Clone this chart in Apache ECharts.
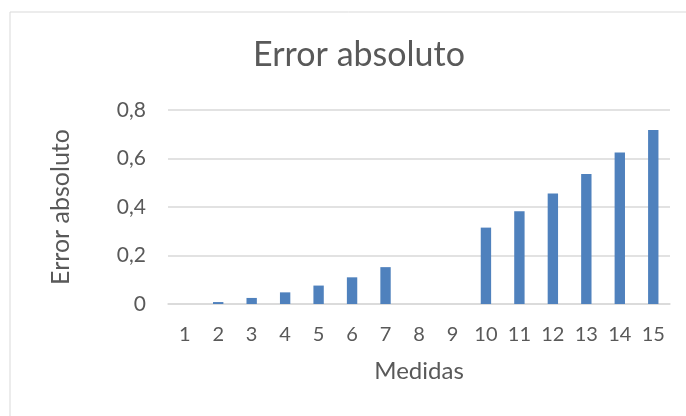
<!DOCTYPE html>
<html>
<head>
<meta charset="utf-8">
<script src="https://cdn.jsdelivr.net/npm/echarts@6/dist/echarts.min.js"></script>
<style>
  html, body { margin: 0; padding: 0; background: #fff; }
  #container { width: 686px; height: 416px; }
</style>
</head>
<body>
<div id="container"></div>
<script>
var categories = ['1', '2', '3', '4', '5', '6', '7', '8', '9', '10', '11', '12', '13', '14', '15'];
var errorValues = [0, 0.008, 0.025, 0.048, 0.076, 0.11, 0.152, 0, 0, 0.315, 0.382, 0.456, 0.536, 0.625, 0.718];
var yTicks = [0, 0.2, 0.4, 0.6, 0.8];

var dom = document.getElementById('container');
var myChart = echarts.init(dom);
var textColor = '#595959';
var font = 'Lato, "Open Sans", sans-serif';

var option = {
    animation: false,
    backgroundColor: '#fff',
    graphic: [
        {
            type: 'rect',
            shape: { x: 10, y: 12, width: 700, height: 420 },
            style: { fill: 'none', stroke: '#d9d9d9', lineWidth: 1 }
        }
    ],
    title: {
        text: 'Error absoluto',
        left: 354,
        textAlign: 'center',
        top: 33,
        textStyle: { color: textColor, fontFamily: font, fontSize: 34, fontWeight: 'normal' }
    },
    grid: { left: 168, right: 16, top: 110, bottom: 112 },
    xAxis: {
        type: 'category',
        data: categories,
        name: 'Medidas',
        nameLocation: 'middle',
        nameGap: 55,
        nameTextStyle: { color: textColor, fontFamily: font, fontSize: 24 },
        axisLine: { lineStyle: { color: '#d9d9d9', width: 1.5 } },
        axisTick: { show: false },
        axisLabel: { color: textColor, fontFamily: font, fontSize: 20, margin: 21 }
    },
    yAxis: {
        type: 'value',
        min: yTicks[0],
        max: yTicks[yTicks.length - 1],
        interval: 0.2,
        name: 'Error absoluto',
        nameLocation: 'middle',
        nameGap: 95,
        nameTextStyle: { color: textColor, fontFamily: font, fontSize: 25 },
        axisLine: { show: false },
        axisTick: { show: false },
        splitLine: { lineStyle: { color: '#d9d9d9', width: 1.5 } },
        axisLabel: {
            color: textColor, fontFamily: font, fontSize: 21, margin: 22,
            formatter: function (v) { return v === 0 ? '0' : v.toFixed(1).replace('.', ','); }
        }
    },
    series: [
        {
            name: 'Error absoluto',
            type: 'bar',
            data: errorValues,
            barWidth: '31%',
            itemStyle: { color: '#4f81bd' }
        }
    ]
};

if (option && typeof option === "object") {
    myChart.setOption(option, true);
}
</script>
</body>
</html>
